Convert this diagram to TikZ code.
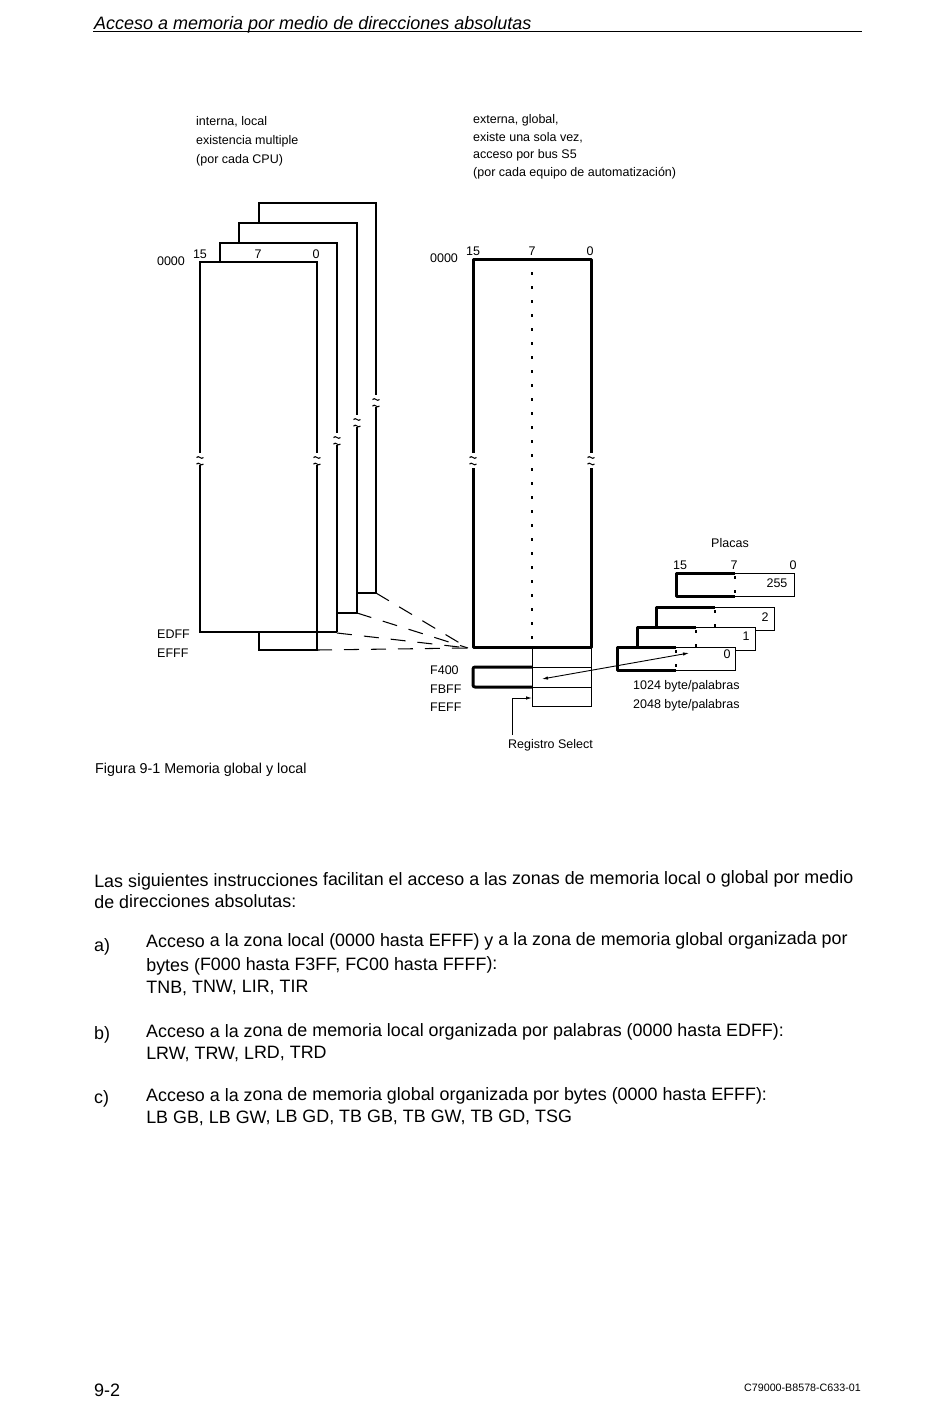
\documentclass[tikz,border=0pt]{standalone}
\usepackage{fontspec}
\setmainfont{Liberation Sans}
\usetikzlibrary{arrows.meta,positioning}
\tikzset{
  lbl/.style={inner sep=0pt,anchor=base,font=\fontsize{12.5}{14}\selectfont},
  lblw/.style={lbl,anchor=base west},
  small/.style={inner sep=0pt,anchor=north west,align=left,font=\fontsize{12.5}{19}\selectfont},
  bodytxt/.style={inner sep=0pt,anchor=north west,align=left,font=\fontsize{17.9}{22}\selectfont},
  sheetl/.style={line width=1.05pt},
  thinl/.style={line width=0.9pt},
  thickl/.style={line width=3pt,line join=round},
  dotl/.style={line width=1.2pt,dash pattern=on 3pt off 11pt},
  tip/.style={-{Latex[length=6pt,width=3.5pt]},line width=0.9pt},
}
% small break mark on a vertical line
\newcommand{\brkmark}[2]{
  \draw[line width=1.1pt] (#1-3.5,#2-1.5) .. controls (#1-1,#2-4.5) and (#1+1,#2+1.5) .. (#1+3.5,#2-1.5);
  \draw[line width=1.1pt] (#1-3.5,#2+5) .. controls (#1-1,#2+2) and (#1+1,#2+8) .. (#1+3.5,#2+5);
}
\begin{document}
\begin{tikzpicture}[x=1pt,y=-1pt]
  \useasboundingbox (0,0) rectangle (950,1409);
  \node[inner sep=0pt,anchor=base west,font=\fontsize{18}{22}\selectfont\itshape] (title) at (94,29) {Acceso a memoria por medio de direcciones absolutas};
  \draw[thinl] (93,31) -- (862,31);

  \node[small] (intern) at (196,116) {interna, local\\existencia multiple\\(por cada CPU)};
  \node[small] (extern) at (473,114) {externa, global,\\[-1pt]existe una sola vez,\\[-1.5pt]acceso por bus S5\\[-1.5pt](por cada equipo de automatización)};

  % local memory sheets
  \draw[sheetl] (200,453) -- (200,262) -- (317,262) -- (317,453);
  \draw[sheetl] (200,465) -- (200,632) -- (337,632);
  \draw[sheetl] (317,465) -- (317,650) -- (259,650) -- (259,632);
  \draw[sheetl] (220,262) -- (220,243) -- (337,243) -- (337,433);
  \draw[sheetl] (337,445) -- (337,632);
  \draw[sheetl] (239,243) -- (239,223) -- (357,223) -- (357,415);
  \draw[sheetl] (357,427) -- (357,613) -- (337,613);
  \draw[sheetl] (259,223) -- (259,203) -- (376,203) -- (376,395);
  \draw[sheetl] (376,407) -- (376,593) -- (357,593);
  \brkmark{200}{459}\brkmark{317}{459}\brkmark{337}{439}\brkmark{357}{421}\brkmark{376}{401}

  \node[lbl] (adr0) at (171,265) {0000};
  \node[lbl] (bit15) at (200,258) {15};
  \node[lbl] (bit7) at (258,258) {7};
  \node[lbl] (bit0) at (316,258) {0};
  \node[lblw] (edff) at (157,638) {EDFF};
  \node[lblw] (efff) at (157,657) {EFFF};

  % links from local sheets to global memory
  \coordinate (hub) at (468,648);
  \coordinate (s1) at (317,650);
  \coordinate (s2) at (337,633);
  \coordinate (s3) at (357,613);
  \coordinate (s4) at (376,593);
  \foreach \s in {s1,s2,s3,s4}
    \draw[line width=1.05pt,dash pattern=on 15pt off 12pt] (\s) -- (hub);

  % global memory
  \draw[thickl] (473,453) -- (473,259) -- (591,259) -- (591,453);
  \draw[thickl] (473,468) -- (473,647) -- (591,647) -- (591,468);
  \brkmark{473}{459}\brkmark{591}{459}
  \draw[dotl] (532,272) -- (532,647);
  \node[lbl] (gadr0) at (444,262) {0000};
  \node[lbl] (gbit15) at (473,255) {15};
  \node[lbl] (gbit7) at (532,255) {7};
  \node[lbl] (gbit0) at (590,255) {0};

  \draw[thinl] (532,647) rectangle (591,706);
  \draw[thinl] (532,667) -- (591,667);
  \draw[thinl] (532,687) -- (591,687);
  \draw[thickl,rounded corners=2pt] (532,667) -- (473,667) -- (473,687) -- (532,687);
  \node[lblw] (f400) at (430,674) {F400};
  \node[lblw] (fbff) at (430,693) {FBFF};
  \node[lblw] (feff) at (430,711) {FEFF};

  \node[lbl] (regsel) at (550.5,748) {Registro Select};
  \coordinate (regfoot) at (512,735);
  \coordinate (regin) at (532,698);
  \draw[tip] (regfoot) |- (regin);

  % boards
  \node[lbl] (placas) at (730,547) {Placas};
  \node[lbl] (pb15) at (680,569) {15};
  \node[lbl] (pb7) at (734,569) {7};
  \node[lbl] (pb0) at (793,569) {0};
  \draw[thinl] (735,573) -- (794,573) -- (794,596) -- (735,596);
  \draw[thickl] (735,573) -- (676,573) -- (676,596) -- (735,596);
  \draw[dotl] (735,576) -- (735,594);
  \node[lbl] (n255) at (777,587) {255};

  \draw[thinl] (715,607) -- (774,607) -- (774,630) -- (755,630);
  \draw[thickl] (715,607) -- (656,607) -- (656,627);
  \draw[dotl] (715,610) -- (715,628);
  \node[lbl] (n2) at (765,621) {2};

  \draw[thinl] (696,627) -- (755,627) -- (755,650) -- (735,650);
  \draw[thickl] (696,627) -- (637,627) -- (637,647);
  \draw[dotl] (696,630) -- (696,647);
  \node[lbl] (n1) at (746,640) {1};

  \draw[thinl] (676,647) -- (735,647) -- (735,670) -- (676,670);
  \draw[thickl] (676,647) -- (617,647) -- (617,670) -- (676,670);
  \draw[dotl] (676,650) -- (676,668);
  \node[lbl] (n0) at (727,658) {0};

  \coordinate (arrA) at (542,679);
  \coordinate (arrB) at (689,653);
  \draw[{Latex[length=6pt,width=3.5pt]}-{Latex[length=6pt,width=3.5pt]},line width=0.9pt] (arrA) -- (arrB);

  \node[lblw] (kb1) at (633,689) {1024 byte/palabras};
  \node[lblw] (kb2) at (633,708) {2048 byte/palabras};

  \node[inner sep=0pt,anchor=base west,font=\fontsize{14.3}{16}\selectfont] (fig) at (95,773) {Figura 9-1 Memoria global y local};

  % page text
  \node[bodytxt,rotate=0.3] (intro) at (94,874) {Las siguientes instrucciones facilitan el acceso a las zonas de memoria local o global por medio\\[-1pt]de direcciones absolutas:};
  \node[bodytxt] (markA) at (94,938) {a)};
  \node[bodytxt,rotate=0.2] (itemA) at (146,934) {Acceso a la zona local (0000 hasta EFFF) y a la zona de memoria global organizada por\\[2pt]bytes (F000 hasta F3FF, FC00 hasta FFFF):\\TNB, TNW, LIR, TIR};
  \node[bodytxt] (markB) at (94,1026) {b)};
  \node[bodytxt,rotate=0.1] (itemB) at (146,1024) {Acceso a la zona de memoria local organizada por palabras (0000 hasta EDFF):\\LRW, TRW, LRD, TRD};
  \node[bodytxt] (markC) at (94,1090) {c)};
  \node[bodytxt,rotate=0.1] (itemC) at (146,1088) {Acceso a la zona de memoria global organizada por bytes (0000 hasta EFFF):\\LB GB, LB GW, LB GD, TB GB, TB GW, TB GD, TSG};

  \node[inner sep=0pt,anchor=base west,font=\fontsize{18}{22}\selectfont] (pageno) at (94,1396) {9-2};
  \node[inner sep=0pt,anchor=base east,font=\fontsize{10.7}{12}\selectfont] (docno) at (861,1391) {C79000-B8578-C633-01};
\end{tikzpicture}
\end{document}
